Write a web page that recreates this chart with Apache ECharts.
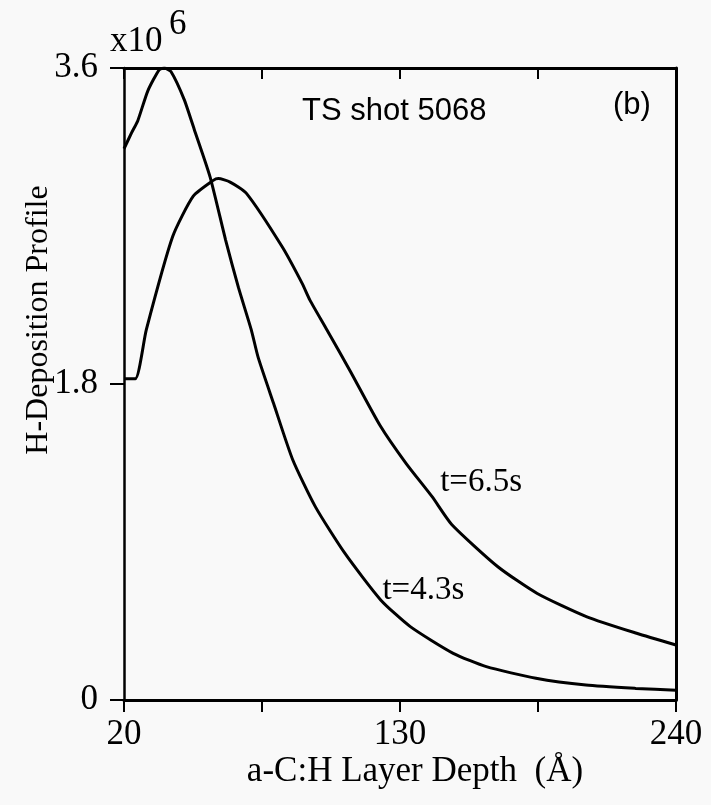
<!DOCTYPE html>
<html>
<head>
<meta charset="utf-8">
<script src="https://cdn.jsdelivr.net/npm/echarts@6/dist/echarts.min.js"></script>
<style>
html,body{margin:0;padding:0;background:#f9f9f9;}
#chart{width:711px;height:805px;}
</style>
</head>
<body>
<div id="chart"></div>
<script>
// Depth (Å) and H-deposition profile (x10^6) for t=4.3s
const depth43 = [20, 23, 25.5, 29.5, 34, 36, 38.7, 44, 48, 54.3, 60.5, 65.6, 70.7, 73.5, 79.6, 87.2, 96.3, 108, 122.3, 134.1, 151.2, 164.4, 184.2, 204.1, 224, 240];
const h43 = [3.14, 3.23, 3.30, 3.47, 3.59, 3.6, 3.58, 3.42, 3.25, 2.98, 2.62, 2.35, 2.11, 1.95, 1.69, 1.37, 1.10, 0.836, 0.57, 0.418, 0.266, 0.19, 0.124, 0.085, 0.066, 0.055];
// t=6.5s
const depth65 = [20, 24.5, 28.9, 39.4, 47.6, 55.6, 57.6, 62.3, 68.8, 83.1, 91, 94.1, 100.9, 110.3, 122, 132.4, 142.8, 150.6, 169, 184.7, 204.5, 224.3, 240];
const h65 = [1.83, 1.83, 2.11, 2.64, 2.87, 2.96, 2.97, 2.95, 2.886, 2.58, 2.373, 2.278, 2.108, 1.87, 1.565, 1.348, 1.158, 1.0, 0.759, 0.607, 0.474, 0.38, 0.313];
// tick labels
const xLabels = [20, 130, 240];
const yLabels = [0, 1.8, 3.6];
// curve annotation anchors (data coords)
const label43 = [123, 0.627];
const label65 = [146, 1.242];

const serif = 'Liberation Serif, Times New Roman, serif';
const sans = 'Liberation Sans, Arial, sans-serif';

const chart = echarts.init(document.getElementById('chart'), null, {renderer: 'canvas'});

function curve(name, xs, ys, anchor) {
  return {
    type: 'line', name: name,
    data: xs.map((x, i) => [x, ys[i]]),
    symbol: 'none', showSymbol: false,
    smooth: 0.2,
    lineStyle: {color: '#000', width: 3},
    silent: true,
    markPoint: {
      symbol: 'circle', symbolSize: 0, silent: true,
      data: [{coord: anchor}],
      label: {show: true, position: 'right', distance: 0, formatter: name,
              fontFamily: serif, fontSize: 33, color: '#000'}
    }
  };
}

const axisLineStyle = w => ({show: true, onZero: false, lineStyle: {color: '#000', width: w}});

chart.setOption({
  backgroundColor: '#f9f9f9',
  animation: false,
  grid: {left: 124, right: 35, top: 68, bottom: 105},
  xAxis: [{
    type: 'value', min: 20, max: 240, interval: 55, position: 'bottom',
    axisLine: axisLineStyle(3),
    axisTick: {show: true, inside: false, length: 12, lineStyle: {color: '#000', width: 2}},
    axisLabel: {formatter: v => xLabels.indexOf(Math.round(v)) >= 0 ? String(Math.round(v)) : '',
                fontFamily: serif, fontSize: 35, color: '#000', margin: 17},
    splitLine: {show: false}
  }, {
    type: 'value', min: 20, max: 240, interval: 55, position: 'top',
    axisLine: axisLineStyle(3),
    axisTick: {show: true, inside: true, length: 11, lineStyle: {color: '#000', width: 2}},
    axisLabel: {show: false}, splitLine: {show: false}
  }],
  yAxis: [{
    type: 'value', min: 0, max: 3.6, interval: 1.8, position: 'left',
    axisLine: axisLineStyle(2.5),
    axisTick: {show: true, inside: false, length: 14, lineStyle: {color: '#000', width: 2}},
    axisLabel: {formatter: v => { const r = Math.round(v * 10) / 10; return yLabels.indexOf(r) >= 0 ? (r === 0 ? '0' : r.toFixed(1)) : ''; },
                fontFamily: serif, fontSize: 35, color: '#000', margin: 26},
    splitLine: {show: false}
  }, {
    type: 'value', min: 0, max: 3.6, interval: 1.8, position: 'right',
    axisLine: axisLineStyle(3),
    axisTick: {show: false}, axisLabel: {show: false}, splitLine: {show: false}
  }],
  graphic: [
    {type: 'text', x: 415, y: 772, style: {text: 'a-C:H Layer Depth  (Å)', font: '35px ' + serif, fill: '#000', textAlign: 'center', textVerticalAlign: 'middle'}},
    {type: 'text', x: 39, y: 320, rotation: Math.PI / 2, style: {text: 'H-Deposition Profile', font: '32px ' + serif, fill: '#000', textAlign: 'center', textVerticalAlign: 'middle'}},
    {type: 'text', x: 110, y: 42, style: {text: 'x10', font: '35px ' + serif, fill: '#000', textAlign: 'left', textVerticalAlign: 'middle'}},
    {type: 'text', x: 169, y: 25, style: {text: '6', font: '35px ' + serif, fill: '#000', textAlign: 'left', textVerticalAlign: 'middle'}},
    {type: 'text', x: 302, y: 111, style: {text: 'TS shot 5068', font: '31px ' + sans, fill: '#000', textAlign: 'left', textVerticalAlign: 'middle'}},
    {type: 'text', x: 613, y: 105, style: {text: '(b)', font: '31px ' + sans, fill: '#000', textAlign: 'left', textVerticalAlign: 'middle'}}
  ],
  series: [
    curve('t=4.3s', depth43, h43, label43),
    curve('t=6.5s', depth65, h65, label65)
  ]
});
</script>
</body>
</html>
